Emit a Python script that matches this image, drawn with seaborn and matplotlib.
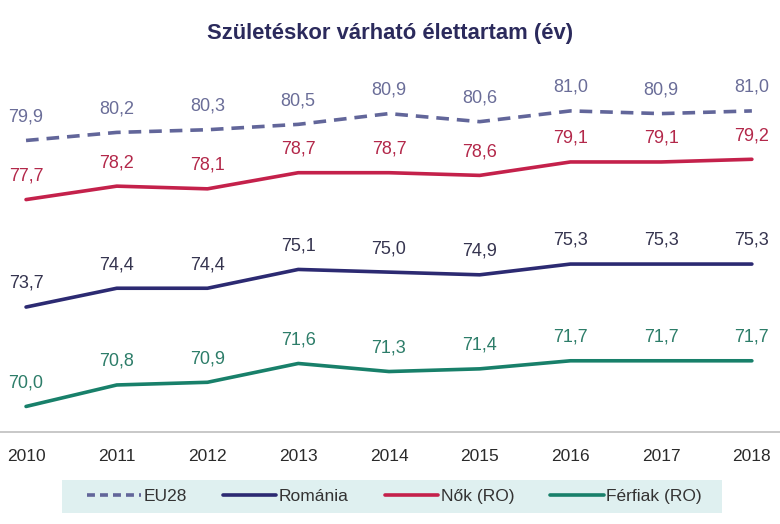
import matplotlib
matplotlib.use("Agg")
import matplotlib.pyplot as plt
import seaborn as sns
import pandas as pd
from matplotlib.lines import Line2D
from matplotlib.patches import Rectangle

years = [2010, 2011, 2012, 2013, 2014, 2015, 2016, 2017, 2018]
eu28 = [79.9, 80.2, 80.3, 80.5, 80.9, 80.6, 81.0, 80.9, 81.0]
romania = [73.7, 74.4, 74.4, 75.1, 75.0, 74.9, 75.3, 75.3, 75.3]
nok = [77.7, 78.2, 78.1, 78.7, 78.7, 78.6, 79.1, 79.1, 79.2]
ferfiak = [70.0, 70.8, 70.9, 71.6, 71.3, 71.4, 71.7, 71.7, 71.7]
series_names = ["EU28", "Románia", "Nők (RO)", "Férfiak (RO)"]
title = "Születéskor várható élettartam (év)"

sns.set_theme(style="white")
plt.rcParams['font.family'] = ['Liberation Sans', 'DejaVu Sans']

line_colors = ["#62669a", "#2c2a72", "#c4214b", "#18806a"]
label_colors = ["#6a6d98", "#35344f", "#b3284a", "#2d7d69"]

fig = plt.figure(figsize=(7.8, 5.24), dpi=100)
ax = fig.add_axes([0.0, 0.1756, 1.0, 0.664])

pos = list(range(len(years)))
all_vals = [eu28, romania, nok, ferfiak]
for name, vals, lc, tc in zip(series_names, all_vals, line_colors, label_colors):
    df = pd.DataFrame({"x": pos, "y": vals})
    if name == "EU28":
        sns.lineplot(data=df, x="x", y="y", ax=ax, color=lc, linewidth=2.6,
                     dashes=False, linestyle=(0, (3.5, 2.2)))
    else:
        sns.lineplot(data=df, x="x", y="y", ax=ax, color=lc, linewidth=2.6)
    for xi, v in zip(pos, vals):
        ax.annotate(f"{v:.1f}".replace(".", ","), (xi, v), xytext=(0, 17),
                    textcoords="offset points", ha="center", va="center",
                    fontsize=13, color=tc)

ax.set_xlim(-0.287, 8.31)
ax.set_ylim(69.05, 82.0)
ax.set_xticks(pos)
ax.set_xticklabels([str(y) for y in years], fontsize=12.5, color="#2a2a2a")
ax.set_yticks([])
ax.set_xlabel("")
ax.set_ylabel("")
ax.tick_params(axis="x", length=0, pad=12)
for s in ["top", "left", "right"]:
    ax.spines[s].set_visible(False)
ax.spines["bottom"].set_color("#bfbfbf")
ax.spines["bottom"].set_linewidth(1.2)

fig.suptitle(title, y=0.957, fontsize=15.8, fontweight="bold", color="#2b2a5c")

# legend background band
fig.patches.append(Rectangle((62 / 780, 1 - 513 / 524), 660 / 780, 33 / 524,
                             transform=fig.transFigure, facecolor="#dff0f0",
                             edgecolor="none", zorder=0))

handles = [
    Line2D([0], [0], color=line_colors[0], lw=2.6, linestyle=(0, (2.2, 1.4))),
    Line2D([0], [0], color=line_colors[1], lw=2.6),
    Line2D([0], [0], color=line_colors[2], lw=2.6),
    Line2D([0], [0], color=line_colors[3], lw=2.6),
]
leg = fig.legend(handles, series_names, loc="center", bbox_to_anchor=(0.506, 0.052),
                 ncol=4, frameon=False, fontsize=12.5, handlelength=3.1,
                 handletextpad=0.15, columnspacing=2.05, borderpad=0.3)
for t in leg.get_texts():
    t.set_color("#333333")

fig.savefig("out.png", dpi=100)
